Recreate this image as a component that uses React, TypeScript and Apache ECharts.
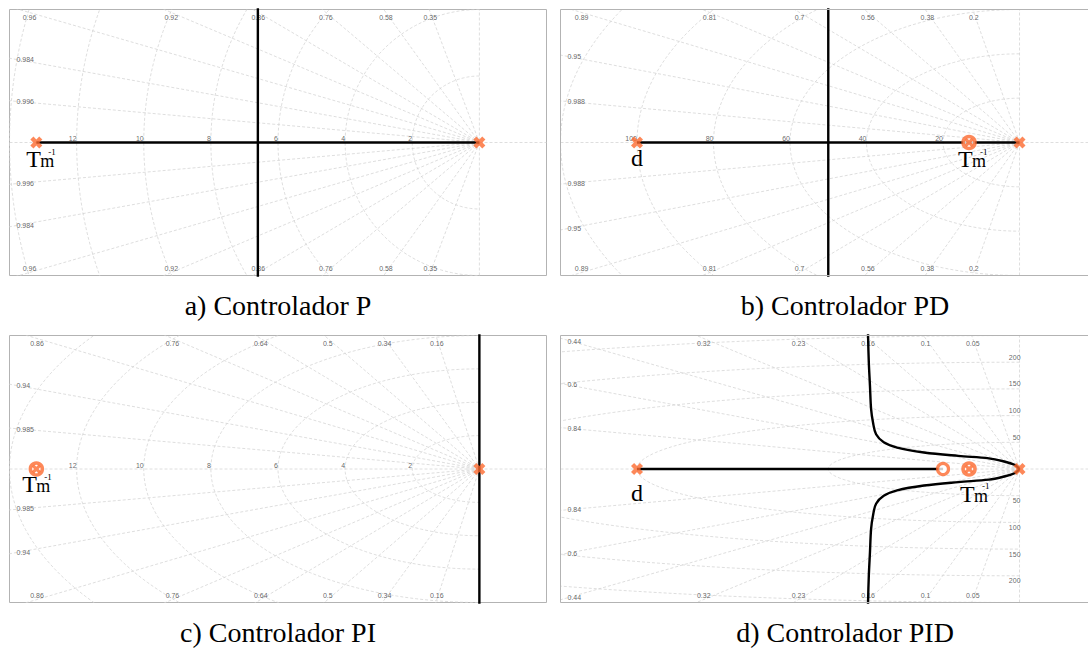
import React, { useEffect, useRef } from 'react';
import * as echarts from 'echarts';

// ---------------- data ----------------
const TM_INV = -13.2;      // Tm^-1
const D_POLE = -100;       // d
const PID_ZERO = -20;
const BREAK_P = -6.6;
const BREAK_PD = -50;

const captions = ['a) Controlador P', 'b) Controlador PD', 'c) Controlador PI', 'd) Controlador PID'];

const xRangeA = [-14, 2];
const yRangeA = [-4, 4];
const xRangeB = [-120, 17.9];
const yRangeB = [-60, 60];
const xRangeC = [-14, 2];
const yRangeC = [-8, 8];
const xRangeD = [-120, 17.9];
const yRangeD = [-250, 250];

const zetaA = [0.35, 0.58, 0.76, 0.86, 0.92, 0.96, 0.984, 0.996];
const wnA = [2, 4, 6, 8, 10, 12, 14];
const wnLabelsA = [2, 4, 6, 8, 10, 12];

const zetaB = [0.2, 0.38, 0.56, 0.7, 0.81, 0.89, 0.95, 0.988];
const wnB = [20, 40, 60, 80, 100, 120];
const wnLabelsB = [20, 40, 60, 80, 100];

const zetaC = [0.16, 0.34, 0.5, 0.64, 0.76, 0.86, 0.94, 0.985];
const wnC = [2, 4, 6, 8, 10, 12, 14];
const wnLabelsC = [2, 4, 6, 8, 10, 12];

const zetaD = [0.05, 0.1, 0.16, 0.23, 0.32, 0.44, 0.6, 0.84];
const wnD = [50, 100, 150, 200, 250];
const wnLabelsD = [50, 100, 150, 200];

// root-locus branches
const locusP_real = [[TM_INV, 0], [0, 0]];
const locusP_vert = [[BREAK_P, -10], [BREAK_P, 10]];
const locusPD_real = [[D_POLE, 0], [0, 0]];
const locusPD_vert = [[BREAK_PD, -100], [BREAK_PD, 100]];
const locusPI_vert = [[0, -20], [0, 20]];
const locusPID_real = [[D_POLE, 0], [PID_ZERO, 0]];
const pidBranchUpper = [[0, 0], [-1.3, 8], [-4.5, 15], [-8, 20], [-16, 24.5], [-25, 31], [-32, 40], [-35.5, 50], [-37.5, 65], [-38.3, 87], [-38.8, 112], [-39.1, 156], [-39.4, 200], [-39.6, 250], [-39.7, 300]];
const pidBranchLower = [[0, 0], [-1.3, -8], [-4.5, -15], [-8, -20], [-16, -24.5], [-25, -31], [-32, -40], [-35.5, -50], [-37.5, -65], [-38.3, -87], [-38.8, -112], [-39.1, -156], [-39.4, -200], [-39.6, -250], [-39.7, -300]];

// poles (x), zeros (o), cancelled pole-zero pairs
const polesA = [[TM_INV, 0], [0, 0]];
const polesB = [[D_POLE, 0], [0, 0]];
const cancelB = [[TM_INV, 0]];
const polesC = [[0, 0]];
const cancelC = [[TM_INV, 0]];
const polesD = [[D_POLE, 0], [0, 0]];
const cancelD = [[TM_INV, 0]];
const zerosD = [[PID_ZERO, 0]];

// ---------------- style ----------------
const ORANGE = '#fd6a2f';
const GRID_COLOR = '#d3d3d3';
const BORDER_COLOR = '#b3b3b3';
const LABEL_COLOR = '#3c3c3c';
const SANS = '"Liberation Sans", Arial, sans-serif';
const SERIF = '"Liberation Serif", "Times New Roman", serif';
const XPATH = 'path://M0,2.6L2.6,0L5,2.4L7.4,0L10,2.6L7.6,5L10,7.4L7.4,10L5,7.6L2.6,10L0,7.4L2.4,5Z';

const rects = [
  { left: 9.5, top: 9.5, width: 537, height: 266 },
  { left: 560.5, top: 9.5, width: 528, height: 266 },
  { left: 9.5, top: 335.5, width: 537, height: 267 },
  { left: 560.5, top: 335.5, width: 528, height: 267 },
];
// panels whose right border lies outside the picture
const openRight = [false, true, false, true];

const panels = [
  { x: xRangeA, y: yRangeA, zetas: zetaA, wns: wnA, wnLabels: wnLabelsA, mode: 'real',
    lines: [locusP_real, locusP_vert], poles: polesA, cancel: [], zeros: [] },
  { x: xRangeB, y: yRangeB, zetas: zetaB, wns: wnB, wnLabels: wnLabelsB, mode: 'real',
    lines: [locusPD_real, locusPD_vert], poles: polesB, cancel: cancelB, zeros: [] },
  { x: xRangeC, y: yRangeC, zetas: zetaC, wns: wnC, wnLabels: wnLabelsC, mode: 'real',
    lines: [locusPI_vert], poles: polesC, cancel: cancelC, zeros: [] },
  { x: xRangeD, y: yRangeD, zetas: zetaD, wns: wnD, wnLabels: wnLabelsD, mode: 'imag',
    lines: [locusPID_real, pidBranchUpper, pidBranchLower], poles: polesD, cancel: cancelD, zeros: zerosD },
];

// annotation labels: [panel, kind, point, dx, baseline dy]
const annotations: any[] = [
  [0, 'Tm', [TM_INV, 0], -10, 25],
  [1, 'd', [D_POLE, 0], 0, 24],
  [1, 'Tm', [TM_INV, 0], -11, 25],
  [2, 'Tm', [TM_INV, 0], -14, 23.5],
  [3, 'd', [D_POLE, 0], 0, 32],
  [3, 'Tm', [TM_INV, 0], -9, 33],
];

function gridLine(i: number, data: any[]) {
  return {
    type: 'line', xAxisIndex: i, yAxisIndex: i, data, symbol: 'none', silent: true,
    clip: true, z: 1, animation: false,
    lineStyle: { color: GRID_COLOR, width: 0.75, type: [3, 2] },
  };
}

function buildPanel(i: number, p: any) {
  const series: any[] = [];
  const [xmin, xmax] = p.x;
  const [ymin, ymax] = p.y;
  const r = rects[i];
  const sy = r.height / (ymax - ymin);

  series.push(gridLine(i, [[xmin, 0], [xmax, 0]]));
  series.push(gridLine(i, [[0, ymin], [0, ymax]]));

  const labelData: any[] = [];
  p.zetas.forEach((z: number) => {
    const s = Math.sqrt(1 - z * z);
    const R = Math.max(Math.abs(xmin) / z, ymax / s) * 1.3;
    series.push(gridLine(i, [[0, 0], [-z * R, s * R]]));
    series.push(gridLine(i, [[0, 0], [-z * R, -s * R]]));
    const topX = -z * (ymax / s);
    const txt = String(z);
    if (topX >= xmin) {
      const yy = ymax - 3 / sy;
      const xx = -z * (yy / s);
      labelData.push({ value: [xx, yy], label: { formatter: txt, align: 'center', offset: [0, 4.5] } });
      labelData.push({ value: [xx, -yy], label: { formatter: txt, align: 'center', offset: [0, -4.5] } });
    } else {
      const yy = s * (-xmin / z);
      const pxFromTop = (ymax - yy) * sy;
      const off = Math.max(1, 5.5 - pxFromTop);
      labelData.push({ value: [xmin, yy], label: { formatter: txt, align: 'left', offset: [7, off] } });
      labelData.push({ value: [xmin, -yy], label: { formatter: txt, align: 'left', offset: [7, -off] } });
    }
  });

  p.wns.forEach((w: number) => {
    const pts: any[] = [];
    for (let a = 90; a <= 270; a += 1.5) {
      const th = (a * Math.PI) / 180;
      pts.push([w * Math.cos(th), w * Math.sin(th)]);
    }
    series.push(gridLine(i, pts));
  });

  p.wnLabels.forEach((w: number) => {
    if (p.mode === 'real') {
      labelData.push({ value: [-w, 0], label: { formatter: String(w), align: 'right', offset: [0, -4] } });
    } else {
      labelData.push({ value: [0, w], label: { formatter: String(w), align: 'right', verticalAlign: 'middle', offset: [1, -5] } });
      labelData.push({ value: [0, -w], label: { formatter: String(w), align: 'right', verticalAlign: 'middle', offset: [1, 5] } });
    }
  });

  series.push({
    type: 'scatter', xAxisIndex: i, yAxisIndex: i, symbolSize: 0, silent: true, clip: false, z: 2,
    data: labelData,
    label: { show: true, position: 'inside', fontSize: 7, fontFamily: SANS, color: LABEL_COLOR },
  });

  p.lines.forEach((d: any[]) => {
    series.push({
      type: 'line', xAxisIndex: i, yAxisIndex: i, data: d, symbol: 'none', silent: true,
      clip: true, z: 5, smooth: d.length > 3 ? 0.35 : false,
      lineStyle: { color: '#000', width: 2.4 },
    });
  });

  if (p.zeros.length) {
    series.push({
      type: 'scatter', xAxisIndex: i, yAxisIndex: i, data: p.zeros, symbol: 'circle', symbolSize: 11,
      z: 10, silent: true, clip: false,
      itemStyle: { color: '#fff', borderColor: ORANGE, borderWidth: 3.2 },
    });
  }
  if (p.cancel.length) {
    series.push({
      type: 'scatter', xAxisIndex: i, yAxisIndex: i, data: p.cancel, symbol: 'circle', symbolSize: 12,
      z: 10, silent: true, clip: false,
      itemStyle: { color: '#fff', borderColor: ORANGE, borderWidth: 3.5 },
    });
    series.push({
      type: 'scatter', xAxisIndex: i, yAxisIndex: i, data: p.cancel, symbol: XPATH, symbolSize: 9,
      z: 11, silent: true, clip: false, itemStyle: { color: ORANGE },
    });
  }
  series.push({
    type: 'scatter', xAxisIndex: i, yAxisIndex: i, data: p.poles, symbol: XPATH, symbolSize: 12,
    z: 11, silent: true, clip: false, itemStyle: { color: ORANGE },
  });
  return series;
}

function textEl(x: number, y: number, text: string, size: number, align = 'left') {
  return {
    type: 'text', x, y, silent: true, z: 100,
    style: {
      text, fill: '#000', font: `${size}px ${SERIF}`, fontSize: size, fontFamily: SERIF,
      textAlign: align, align, textVerticalAlign: 'middle', verticalAlign: 'middle',
    },
  };
}

export default function App() {
  const ref = useRef<HTMLDivElement>(null);
  useEffect(() => {
    if (!ref.current) return;
    const chart = echarts.init(ref.current, undefined, { renderer: 'svg' });
    const grids = rects.map((r, i) => ({
      ...r, show: !openRight[i], borderColor: BORDER_COLOR, borderWidth: 1,
      backgroundColor: 'transparent', containLabel: false,
    }));
    const xAxis = panels.map((p, i) => ({
      type: 'value', gridIndex: i, min: p.x[0], max: p.x[1], show: false, splitLine: { show: false },
    }));
    const yAxis = panels.map((p, i) => ({
      type: 'value', gridIndex: i, min: p.y[0], max: p.y[1], show: false, splitLine: { show: false },
    }));
    const series: any[] = [];
    panels.forEach((p, i) => series.push(...buildPanel(i, p)));

    const capPos = [[278, 305], [845, 305], [278, 632], [845, 632]];
    const graphic: any[] = captions.map((c, k) => textEl(capPos[k][0], capPos[k][1], c, 28, 'center'));

    rects.forEach((r, i) => {
      if (!openRight[i]) return;
      const R = 1090;
      const B = r.top + r.height;
      graphic.push({
        type: 'polyline', silent: true, z: 50,
        shape: { points: [[R, r.top], [r.left, r.top], [r.left, B], [R, B]] },
        style: { stroke: BORDER_COLOR, lineWidth: 1, fill: 'none' },
      });
    });

    chart.setOption({ animation: false, grid: grids, xAxis, yAxis, series, graphic });

    annotations.forEach(([pi, kind, pt, dx, dy]) => {
      const px = chart.convertToPixel({ gridIndex: pi }, pt) as number[];
      const base = px[1] + dy;
      if (kind === 'd') {
        graphic.push(textEl(px[0] + dx, base - 0.34 * 24, 'd', 24, 'center'));
      } else {
        const x0 = px[0] + dx;
        graphic.push(textEl(x0, base - 0.34 * 24, 'T', 24));
        graphic.push(textEl(x0 + 14, base - 0.34 * 18, 'm', 18));
        graphic.push(textEl(x0 + 22, base - 16, '-1', 9));
      }
    });
    chart.setOption({ graphic });

    return () => chart.dispose();
  }, []);
  return (
    <div
      ref={ref}
      style={{ position: 'absolute', left: 0, top: 0, width: 1088, height: 648, background: '#fff' }}
    />
  );
}
